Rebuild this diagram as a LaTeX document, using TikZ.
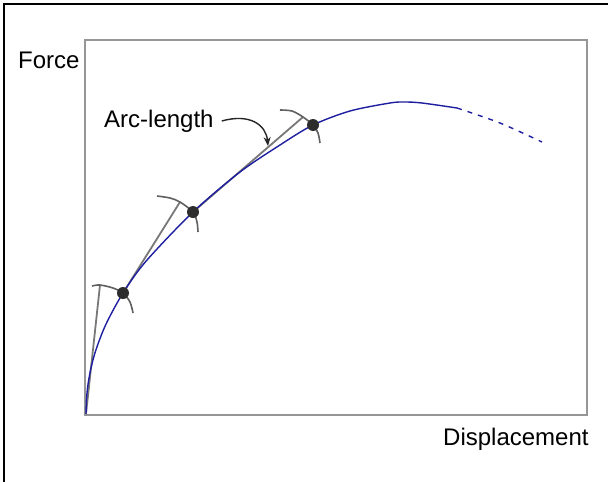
\documentclass[tikz,border=0pt]{standalone}
\usepackage{fontspec}
\setmainfont{Liberation Sans}
\usetikzlibrary{arrows.meta}
\definecolor{curveblue}{RGB}{30,30,160}
\definecolor{boxgray}{RGB}{150,150,150}
\definecolor{tangray}{RGB}{120,120,120}
\definecolor{dotcol}{RGB}{45,45,45}
\tikzset{
  lbl/.style={font=\fontsize{24}{27}\selectfont, inner sep=0pt, anchor=base west},
  curve/.style={curveblue, line width=1.4pt},
  tangent/.style={tangray, line width=1.8pt},
  arcmark/.style={tangray!80!black, line width=1.6pt},
  dotpt/.style={circle, fill=dotcol, inner sep=0pt, minimum size=12pt},
}
\begin{document}
\begin{tikzpicture}[x=1pt,y=-1pt]
\useasboundingbox (0,0) rectangle (608,482);
\fill[white] (0,0) rectangle (608,482);
% outer frame (only left and top visible)
\draw[black, line width=1.6pt] (4,482) -- (4,4) -- (608,4);
% plot box
\draw[boxgray, line width=1.6pt] (85,40) rectangle (587,415);
% labels
\node[lbl] (force) at (18,68) {Force};
\node[lbl] (disp) at (443,445) {Displacement};
\node[lbl] (arclbl) at (104,127) {Arc-length};
% coordinates
\coordinate (O) at (86,414);
\coordinate (P1) at (123,293);
\coordinate (P2) at (193,212);
\coordinate (P3) at (313,125);
\coordinate (T1) at (100,285);
\coordinate (T2) at (180,202);
\coordinate (T3) at (303,117);
% tangents
\draw[tangent] (O) -- (T1);
\draw[tangent] (P1) -- (T2);
\draw[tangent] (P2) -- (T3);
% arcs
\draw[arcmark] plot[smooth] coordinates {(92,286) (100,285) (113,288) (123,293) (130,302) (133,313)};
\draw[arcmark] plot[smooth] coordinates {(157,196) (170,198) (180,202) (193,212) (197,222) (198,232)};
\draw[arcmark] plot[smooth] coordinates {(280,110) (292,111) (303,117) (313,125) (318,133) (320,143)};
% curve
\draw[curve] plot[smooth] coordinates {(86,414) (86.5,399) (88,384.4) (91,368) (96,349.7) (106,324.1) (123,293) (146,261.2) (193,212) (240,172) (280,145) (313,125) (350,111) (390,103) (405,102) (422,103) (457,108)};
\draw[curve, dash pattern=on 5pt off 6pt] plot[smooth] coordinates {(457,108) (500,123) (542,142)};
% dots
\node[dotpt] (d1) at (P1) {};
\node[dotpt] (d2) at (P2) {};
\node[dotpt] (d3) at (P3) {};
% arrow
\coordinate (atip) at (268,146);
\draw[black!85, line width=1.4pt, -{Stealth[length=9pt,width=7pt]}] (arclbl.base east) ++(8,-6) .. controls (250,113) and (266,125) .. (atip);
\end{tikzpicture}
\end{document}
